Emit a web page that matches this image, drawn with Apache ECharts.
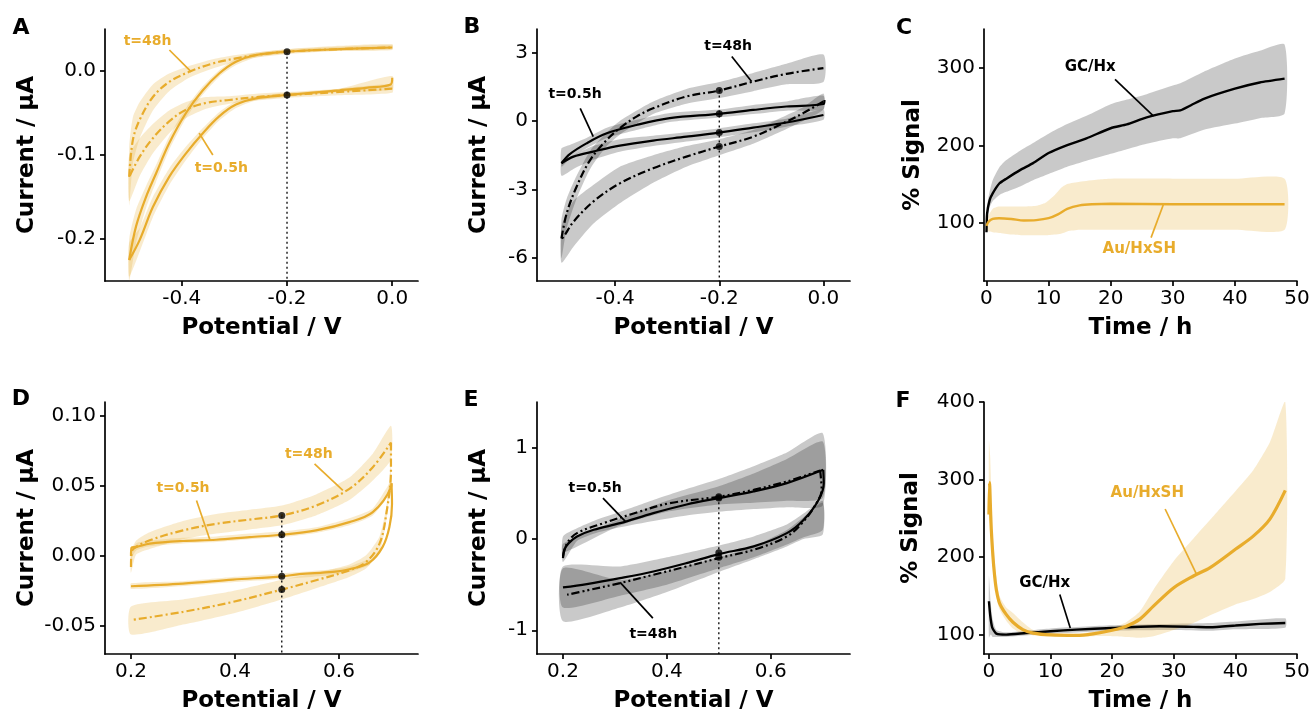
<!DOCTYPE html>
<html><head><meta charset="utf-8">
<script src="https://cdn.jsdelivr.net/npm/echarts@6/dist/echarts.min.js"></script>
<style>html,body{margin:0;padding:0;background:#fff}#c{width:1312px;height:718px}</style>
</head><body><div id="c"></div>
<script>
// ---------------- Tick values ----------------
const A_xTicks = [-0.4, -0.2, 0.0];
const A_yTicks = [-0.2, -0.1, 0.0];
const B_xTicks = [-0.4, -0.2, 0.0];
const B_yTicks = [-6, -3, 0, 3];
const C_xTicks = [0, 10, 20, 30, 40, 50];
const C_yTicks = [100, 200, 300];
const D_xTicks = [0.2, 0.4, 0.6];
const D_yTicks = [-0.05, 0.00, 0.05, 0.10];
const E_xTicks = [0.2, 0.4, 0.6];
const E_yTicks = [-1, 0, 1];
const F_xTicks = [0, 10, 20, 30, 40, 50];
const F_yTicks = [100, 200, 300, 400];

// ---------------- Panel A (Au/HxSH, CV) ----------------
const A_t05_up = [[-0.5,-0.225],[-0.487,-0.185],[-0.468,-0.150],[-0.449,-0.122],[-0.424,-0.086],[-0.392,-0.050],[-0.360,-0.023],[-0.329,-0.003],[-0.297,0.011],[-0.259,0.019],[-0.2,0.023],[-0.1,0.026],[0,0.028]];
const A_t05_lo = [[0,-0.008],[-0.003,-0.016],[-0.05,-0.020],[-0.1,-0.023],[-0.2,-0.0286],[-0.259,-0.0325],[-0.297,-0.040],[-0.329,-0.054],[-0.36,-0.074],[-0.392,-0.098],[-0.424,-0.126],[-0.455,-0.162],[-0.48,-0.201],[-0.5,-0.225]];
const A_t48_up = [[-0.5,-0.126],[-0.493,-0.082],[-0.48,-0.058],[-0.455,-0.031],[-0.424,-0.013],[-0.386,-0.001],[-0.341,0.009],[-0.297,0.015],[-0.259,0.019],[-0.2,0.023],[-0.1,0.026],[0,0.028]];
const A_t48_lo = [[0,-0.021],[-0.1,-0.025],[-0.2,-0.0286],[-0.259,-0.031],[-0.31,-0.0345],[-0.354,-0.038],[-0.392,-0.046],[-0.424,-0.060],[-0.455,-0.080],[-0.48,-0.102],[-0.5,-0.126]];
const A_t05_up_band = [[-0.5,-0.25,-0.2],[-0.487,-0.205,-0.165],[-0.468,-0.163,-0.137],[-0.449,-0.132,-0.112],[-0.424,-0.094,-0.078],[-0.392,-0.056,-0.044],[-0.36,-0.028,-0.018],[-0.329,-0.007,0.001],[-0.297,0.007,0.015],[-0.259,0.016,0.022],[-0.2,0.021,0.026],[-0.1,0.024,0.029],[0,0.026,0.031]];
const A_t05_lo_band = [[-0.5,-0.245,-0.205],[-0.48,-0.215,-0.187],[-0.455,-0.174,-0.150],[-0.424,-0.136,-0.116],[-0.392,-0.106,-0.090],[-0.36,-0.080,-0.068],[-0.329,-0.059,-0.049],[-0.297,-0.044,-0.036],[-0.259,-0.035,-0.030],[-0.2,-0.031,-0.026],[-0.1,-0.025,-0.021],[0,-0.022,-0.006]];
const A_t48_up_band = [[-0.5,-0.16,-0.09],[-0.493,-0.11,-0.055],[-0.48,-0.08,-0.037],[-0.455,-0.047,-0.016],[-0.424,-0.024,-0.003],[-0.386,-0.008,0.006],[-0.341,0.003,0.014],[-0.297,0.011,0.019],[-0.259,0.016,0.022],[-0.2,0.020,0.026],[-0.1,0.024,0.030],[0,0.025,0.032]];
const A_t48_lo_band = [[-0.5,-0.155,-0.10],[-0.48,-0.125,-0.08],[-0.455,-0.098,-0.063],[-0.424,-0.074,-0.047],[-0.392,-0.056,-0.037],[-0.354,-0.045,-0.031],[-0.31,-0.039,-0.030],[-0.259,-0.035,-0.027],[-0.2,-0.032,-0.025],[-0.1,-0.029,-0.021],[0,-0.026,-0.016]];
const A_dots = [[-0.2,0.023],[-0.2,-0.0286]];

// ---------------- Panel B (GC/Hx, CV) ----------------
const B_t05_up = [[-0.503,-1.85],[-0.487,-1.45],[-0.455,-0.98],[-0.416,-0.54],[-0.359,-0.18],[-0.295,0.12],[-0.2,0.31],[-0.135,0.48],[-0.071,0.63],[0,0.74],[0.002,0.92]];
const B_t05_lo = [[0,0.26],[-0.071,-0.07],[-0.135,-0.29],[-0.2,-0.51],[-0.263,-0.69],[-0.327,-0.86],[-0.391,-1.08],[-0.442,-1.34],[-0.48,-1.56],[-0.503,-1.85]];
const B_t48_up = [[-0.503,-5.14],[-0.493,-4.04],[-0.474,-2.88],[-0.448,-1.71],[-0.416,-0.83],[-0.391,-0.32],[-0.359,0.19],[-0.327,0.55],[-0.263,1.07],[-0.2,1.33],[-0.135,1.72],[-0.071,2.06],[0,2.31]];
const B_t48_lo = [[0,0.85],[-0.039,0.34],[-0.071,-0.03],[-0.135,-0.69],[-0.2,-1.12],[-0.263,-1.56],[-0.327,-2.07],[-0.391,-2.73],[-0.442,-3.53],[-0.48,-4.41],[-0.499,-5.07],[-0.503,-5.14]];
const B_t05_up_band = [[-0.503,-2.0,-1.2],[-0.487,-1.65,-1.05],[-0.455,-1.2,-0.75],[-0.416,-0.75,-0.3],[-0.359,-0.4,0.05],[-0.295,-0.05,0.35],[-0.2,0.15,0.5],[-0.135,0.3,0.7],[-0.071,0.45,0.85],[0,0.5,1.1]];
const B_t05_lo_band = [[-0.503,-2.4,-1.8],[-0.48,-2.1,-1.5],[-0.442,-1.7,-1.1],[-0.391,-1.35,-0.8],[-0.327,-1.1,-0.65],[-0.263,-0.9,-0.5],[-0.2,-0.72,-0.32],[-0.135,-0.5,-0.1],[-0.071,-0.25,0.1],[0,0.05,0.5]];
const B_t48_up_band = [[-0.503,-6.0,-4.3],[-0.493,-4.7,-3.4],[-0.474,-3.4,-2.4],[-0.448,-2.1,-1.3],[-0.416,-1.1,-0.5],[-0.391,-0.6,0.0],[-0.327,0.3,0.85],[-0.263,0.75,1.4],[-0.2,1.0,1.7],[-0.135,1.3,2.1],[-0.071,1.6,2.5],[0,1.7,2.9]];
const B_t48_lo_band = [[-0.503,-6.2,-4.6],[-0.48,-5.5,-3.5],[-0.442,-4.5,-2.8],[-0.391,-3.6,-2.0],[-0.327,-2.7,-1.5],[-0.263,-2.0,-1.1],[-0.2,-1.5,-0.8],[-0.135,-1.0,-0.4],[-0.071,-0.35,0.25],[-0.039,0.0,0.6],[0,0.5,1.2]];
const B_dots = [[-0.2,1.33],[-0.2,0.31],[-0.2,-0.51],[-0.2,-1.12]];

// ---------------- Panel C (% signal vs time, oxidation) ----------------
const C_gc = [[0,88],[0.1,112],[0.5,129],[1,138],[2.1,151],[3.2,157],[5.4,168],[7.5,177],[10,190],[12.9,200],[16.1,209],[20,222],[22.6,227],[25.8,236],[30,244],[31.2,245],[33,252],[35,260],[40,273],[44,281],[48,286]];
const C_gc_band = [[0,85,95],[0.1,104,122],[0.5,120,140],[1,128,155],[2.1,136,172],[3.2,140,181],[5.4,147,193],[7.5,155,203],[10,163,215],[12.9,172,227],[16.1,180,238],[20,189,253],[22.6,195,259],[25.8,202,266],[30,209,277],[31.2,209,280],[35,220,295],[40,228,312],[44,235,322],[48,241,330]];
const C_au = [[0,96],[0.3,101],[1,105],[2,106],[4,105],[6,103],[8,103.5],[10,106],[11.5,111],[13,118],[15,122.5],[17,124],[20,124.7],[30,124],[40,124],[48,124]];
const C_au_band = [[0,90,104],[1,88,118],[2,87,121],[4,85,121],[6,84,121],[8,84,122],[9.5,84,126],[11,85,136],[12,86,145],[13,89,150],[15,91,153],[18,91,156],[20,91,157],[30,91,157],[40,91,157],[48,91,157]];

// ---------------- Panel D (Au/HxSH, CV anodic) ----------------
const D_t05_up = [[0.2,0.0],[0.201,0.006],[0.211,0.0065],[0.236,0.0088],[0.3,0.0107],[0.364,0.0116],[0.428,0.0135],[0.49,0.0152],[0.556,0.0183],[0.62,0.0242],[0.665,0.0313],[0.7,0.049],[0.701,0.052]];
const D_t05_lo = [[0.701,0.052],[0.702,0.037],[0.697,0.0207],[0.684,0.0065],[0.659,-0.0045],[0.62,-0.0095],[0.588,-0.0114],[0.524,-0.013],[0.49,-0.0145],[0.396,-0.0169],[0.3,-0.0197],[0.2,-0.0216]];
const D_t48_up = [[0.2,-0.0078],[0.2005,0.0005],[0.205,0.0052],[0.236,0.0112],[0.3,0.0183],[0.364,0.023],[0.428,0.026],[0.49,0.029],[0.556,0.036],[0.62,0.048],[0.665,0.0634],[0.7,0.081]];
const D_t48_lo = [[0.7,0.081],[0.7,0.061],[0.691,0.030],[0.678,0.0088],[0.652,-0.0043],[0.62,-0.0102],[0.556,-0.0173],[0.49,-0.024],[0.396,-0.0328],[0.3,-0.0399],[0.2,-0.0458]];
const D_t05_up_band = [[0.2,-0.002,0.003],[0.21,0.004,0.009],[0.236,0.007,0.011],[0.3,0.009,0.013],[0.364,0.010,0.014],[0.428,0.012,0.016],[0.49,0.0135,0.0175],[0.556,0.0165,0.0205],[0.62,0.022,0.027],[0.665,0.029,0.034],[0.7,0.046,0.053]];
const D_t05_lo_band = [[0.2,-0.0235,-0.0195],[0.3,-0.0215,-0.018],[0.396,-0.0188,-0.015],[0.49,-0.0165,-0.0125],[0.588,-0.0135,-0.0095],[0.62,-0.0115,-0.0075],[0.659,-0.0065,-0.0025]];
const D_t48_up_band = [[0.2,-0.012,0.003],[0.21,0.001,0.011],[0.236,0.005,0.017],[0.3,0.012,0.025],[0.364,0.016,0.030],[0.428,0.019,0.033],[0.49,0.022,0.036],[0.556,0.029,0.044],[0.62,0.040,0.056],[0.665,0.054,0.073],[0.7,0.069,0.093]];
const D_t48_lo_band = [[0.2,-0.056,-0.036],[0.3,-0.049,-0.031],[0.396,-0.041,-0.025],[0.49,-0.031,-0.017],[0.556,-0.023,-0.012],[0.62,-0.015,-0.006],[0.652,-0.009,0.0005],[0.678,0.003,0.014],[0.691,0.025,0.035],[0.7,0.056,0.066]];
const D_dots = [[0.49,0.029],[0.49,0.0152],[0.49,-0.0145],[0.49,-0.024]];

// ---------------- Panel E (GC/Hx, CV anodic) ----------------
const E_t05_up = [[0.2,-0.208],[0.2025,-0.117],[0.211,-0.044],[0.227,0.029],[0.259,0.102],[0.31,0.175],[0.374,0.285],[0.438,0.38],[0.5,0.45],[0.567,0.523],[0.631,0.614],[0.701,0.76]];
const E_t05_lo = [[0.701,0.76],[0.702,0.61],[0.692,0.43],[0.663,0.21],[0.631,0.066],[0.567,-0.08],[0.5,-0.164],[0.438,-0.263],[0.374,-0.355],[0.31,-0.428],[0.246,-0.493],[0.2,-0.53]];
const E_t48_up = [[0.2,-0.19],[0.208,-0.044],[0.227,0.066],[0.278,0.175],[0.342,0.292],[0.406,0.395],[0.5,0.465],[0.567,0.541],[0.631,0.632],[0.695,0.753]];
const E_t48_lo = [[0.695,0.753],[0.698,0.54],[0.688,0.395],[0.663,0.194],[0.631,0.029],[0.567,-0.117],[0.5,-0.208],[0.438,-0.3],[0.374,-0.391],[0.31,-0.482],[0.246,-0.563],[0.208,-0.61]];
const E_t05_up_band = [[0.2,-0.25,0.03],[0.227,-0.02,0.12],[0.259,0.06,0.2],[0.31,0.13,0.3],[0.374,0.2,0.43],[0.438,0.26,0.55],[0.5,0.3,0.66],[0.567,0.33,0.8],[0.631,0.35,0.95],[0.7,0.37,1.16]];
const E_t48_up_band = [[0.2,-0.15,-0.05],[0.31,0.15,0.22],[0.4,0.3,0.42],[0.5,0.38,0.58],[0.567,0.4,0.72],[0.631,0.42,0.88],[0.7,0.45,1.07]];
const E_t05_lo_band = [[0.2,-0.75,-0.3],[0.31,-0.62,-0.3],[0.4,-0.5,-0.2],[0.5,-0.32,-0.07],[0.567,-0.2,0.03],[0.631,-0.06,0.16],[0.663,0.02,0.28],[0.7,0.1,0.42]];
const E_t48_lo_band = [[0.2,-0.9,-0.32],[0.31,-0.75,-0.45],[0.4,-0.58,-0.35],[0.5,-0.36,-0.2],[0.567,-0.22,-0.08],[0.631,-0.08,0.1],[0.663,0.0,0.24],[0.7,0.05,0.4]];
const E_dots = [[0.5,0.45],[0.5,0.465],[0.5,-0.15],[0.5,-0.2]];

// ---------------- Panel F (% signal vs time, reduction) ----------------
const F_au = [[0,255],[0.1,296],[0.22,270],[0.38,236],[0.65,201],[0.92,176],[1.2,158],[1.7,141],[2.8,126],[3.9,116],[5.5,106.5],[7.2,102],[10,99.6],[14.2,99],[16.9,101],[20,105.6],[22.3,110.8],[24.5,120],[26.7,136.7],[30,160.5],[33.2,175.6],[35.9,186.4],[40,210],[42.9,227],[45.6,249],[48.1,286]];
const F_au_band = [[0,250,350],[0.2,240,330],[0.65,190,227],[1.2,150,175],[1.7,133,150],[2.8,118,135],[3.9,108,128],[5.5,101,116],[7.2,99,106],[10,98,102],[14.2,97.5,101],[17,98,104],[20,98,109],[22.3,97,116],[24.5,96,130],[26.7,98,158],[30,106,195],[33.2,115,224],[35.9,125,248],[40,139,285],[42.9,146,312],[45.6,155,348],[48.1,172,400]];
const F_gc = [[0,143],[0.22,124],[0.54,109],[1.2,101.3],[2.8,100],[6,102],[10,104.3],[14.2,106.5],[20,108.6],[27.7,110.8],[33.2,110],[35.9,109.5],[40,111.7],[44,113.8],[48.1,115]];
const F_gc_band = [[0,96,176],[0.3,100,140],[0.6,97,120],[1.2,97,106],[2.8,97,103],[10,101,108],[20,105,112],[30,106,114],[36,105,115],[40,107,117],[48.1,109,121]];

// ---------------- Styling ----------------
const ORANGE = '#E8AC2C';
const OR_BAND = 'rgba(232,172,44,0.24)';
const GR_BAND = 'rgba(0,0,0,0.21)';
const FONT = '"DejaVu Sans", "Liberation Sans", sans-serif';
const DASH = [8, 3, 2, 3];
const DASH2 = [8, 3, 2, 3, 2, 3];

const grids = [
  {left:105, top:29, width:313, height:252},
  {left:537, top:29, width:313, height:252},
  {left:984, top:29, width:313, height:252},
  {left:105, top:402, width:313, height:252},
  {left:537, top:402, width:313, height:252},
  {left:984, top:402, width:313, height:252}
].map(g => Object.assign(g, {containLabel:false, outerBoundsMode:'none'}));

function axisBase(gi, min, max, ticks, dec, name, gap, labMargin) {
  return {
    type:'value', gridIndex:gi, min:min, max:max, scale:true,
    name:name, nameLocation:'middle', nameGap:gap, nameMoveOverlap:false,
    nameTextStyle:{fontFamily:FONT, fontWeight:'bold', fontSize:23, color:'#000'},
    axisLine:{show:true, onZero:false, lineStyle:{color:'#000', width:1.7}},
    axisTick:{show:true, inside:false, length:5, customValues:ticks, lineStyle:{color:'#000', width:1.7}},
    axisLabel:{show:true, customValues:ticks, margin:labMargin, formatter:v => Number(v).toFixed(dec),
      fontFamily:FONT, fontSize:20, color:'#000'},
    splitLine:{show:false}
  };
}
const xAxes = [
  axisBase(0, -0.546, 0.049, A_xTicks, 1, 'Potential / V', 36, 8),
  axisBase(1, -0.55, 0.051, B_xTicks, 1, 'Potential / V', 36, 8),
  axisBase(2, -0.4, 50, C_xTicks, 0, 'Time / h', 36, 8),
  axisBase(3, 0.15, 0.752, D_xTicks, 1, 'Potential / V', 36, 8),
  axisBase(4, 0.15, 0.7525, E_xTicks, 1, 'Potential / V', 36, 8),
  axisBase(5, -0.8, 50, F_xTicks, 0, 'Time / h', 36, 8)
];
const yAxes = [
  axisBase(0, -0.25, 0.05, A_yTicks, 1, 'Current / µA', 66, 9),
  axisBase(1, -7, 4.02, B_yTicks, 0, 'Current / µA', 46, 9),
  axisBase(2, 25, 350, C_yTicks, 0, '% Signal', 59, 9),
  axisBase(3, -0.07, 0.11, D_yTicks, 2, 'Current / µA', 66, 9),
  axisBase(4, -1.26, 1.504, E_yTicks, 0, 'Current / µA', 46, 9),
  axisBase(5, 75, 400, F_yTicks, 0, '% Signal', 61, 9)
];

function line(gi, data, color, width, dash, smooth) {
  return {type:'line', xAxisIndex:gi, yAxisIndex:gi, data:data, symbol:'none', showSymbol:false,
    smooth: smooth === undefined ? 0.35 : smooth, silent:true, animation:false, z:4,
    lineStyle:{color:color, width:width, type:dash || 'solid', cap:'butt'}};
}
function band(gi, pts, fill) {
  return {type:'custom', xAxisIndex:gi, yAxisIndex:gi, data:pts, encode:{x:0, y:[1,2]},
    silent:true, animation:false, z:2, clip:true,
    renderItem: function(params, api) {
      if (params.dataIndex !== 0) return null;
      const lo = pts.map(p => api.coord([p[0], p[1]]));
      const hi = pts.map(p => api.coord([p[0], p[2]])).reverse();
      return {type:'polygon', shape:{points: lo.concat(hi), smooth:0.2}, style:{fill:fill, stroke:null}};
    }};
}
function dots(gi, data) {
  return {type:'scatter', xAxisIndex:gi, yAxisIndex:gi, data:data, symbol:'circle', symbolSize:7,
    itemStyle:{color:'#000'}, silent:true, animation:false, z:6};
}
function vdotted(gi, data) {
  return {type:'line', xAxisIndex:gi, yAxisIndex:gi, data:data, symbol:'none', silent:true, animation:false, z:3,
    lineStyle:{color:'#000', width:1.3, type:[2,3]}};
}
// annotations: label text at a data position and a leader segment between two data positions
function annot(gi, items, color, size) {
  return {type:'custom', xAxisIndex:gi, yAxisIndex:gi, data:items.map(it => it.at), encode:{x:0, y:1},
    silent:true, animation:false, z:7, clip:false,
    renderItem: function(params, api) {
      const it = items[params.dataIndex];
      const p = api.coord(it.at), a = api.coord(it.line[0]), b = api.coord(it.line[1]);
      return {type:'group', children:[
        {type:'line', shape:{x1:a[0], y1:a[1], x2:b[0], y2:b[1]}, style:{stroke:color, lineWidth:1.7}},
        {type:'text', x:p[0], y:p[1], style:{text:it.text, fill:color, font:'bold ' + size + 'px ' + FONT,
          align:'center', verticalAlign:'middle', textAlign:'center', textVerticalAlign:'middle'}}
      ]};
    }};
}

const A_notes = [
  {text:'t=48h', at:[-0.465,0.035], line:[[-0.4236,0.025],[-0.382,-0.001]]},
  {text:'t=0.5h', at:[-0.325,-0.116], line:[[-0.341,-0.1],[-0.367,-0.074]]}
];
const B_notes = [
  {text:'t=0.5h', at:[-0.477,1.14], line:[[-0.467,0.55],[-0.442,-0.69]]},
  {text:'t=48h', at:[-0.183,3.26], line:[[-0.176,2.82],[-0.138,1.72]]}
];
const C_notes_gc = [{text:'GC/Hx', at:[16.7,301], line:[[20.7,285],[26.9,237.7]]}];
const C_notes_au = [{text:'Au/HxSH', at:[24.6,65.7], line:[[26.5,81],[28.5,124]]}];
const D_notes = [
  {text:'t=0.5h', at:[0.3,0.048], line:[[0.326,0.0396],[0.352,0.0112]]},
  {text:'t=48h', at:[0.542,0.0729], line:[[0.553,0.0658],[0.6075,0.0468]]}
];
const E_notes = [
  {text:'t=0.5h', at:[0.262,0.559], line:[[0.277,0.45],[0.32,0.194]]},
  {text:'t=48h', at:[0.374,-1.049], line:[[0.373,-0.866],[0.31,-0.475]]}
];
const F_notes_au = [{text:'Au/HxSH', at:[25.7,282.6], line:[[28.6,262],[33.7,177.7]]}];
const F_notes_gc = [{text:'GC/Hx', at:[9.05,166.9], line:[[11.5,151.8],[13.2,108.6]]}];

const series = [
  // A
  band(0, A_t05_up_band, OR_BAND), band(0, A_t05_lo_band, OR_BAND),
  band(0, A_t48_up_band, OR_BAND), band(0, A_t48_lo_band, OR_BAND),
  line(0, A_t05_up, ORANGE, 2.2), line(0, A_t05_lo, ORANGE, 2.2),
  line(0, A_t48_up, ORANGE, 2.2, DASH), line(0, A_t48_lo, ORANGE, 2.2, DASH),
  vdotted(0, [[-0.2,0.023],[-0.2,-0.25]]), dots(0, A_dots), annot(0, A_notes, ORANGE, 14),
  // B
  band(1, B_t05_up_band, GR_BAND), band(1, B_t05_lo_band, GR_BAND),
  band(1, B_t48_up_band, GR_BAND), band(1, B_t48_lo_band, GR_BAND),
  line(1, B_t05_up, '#000', 2.2), line(1, B_t05_lo, '#000', 2.2),
  line(1, B_t48_up, '#000', 2.2, DASH), line(1, B_t48_lo, '#000', 2.2, DASH),
  vdotted(1, [[-0.2,1.33],[-0.2,-7]]), dots(1, B_dots), annot(1, B_notes, '#000', 14),
  // C
  band(2, C_gc_band, GR_BAND), band(2, C_au_band, OR_BAND),
  line(2, C_gc, '#000', 2.4, null, 0.2), line(2, C_au, ORANGE, 2.4, null, 0.3),
  annot(2, C_notes_gc, '#000', 15), annot(2, C_notes_au, ORANGE, 15),
  // D
  band(3, D_t05_up_band, OR_BAND), band(3, D_t05_lo_band, OR_BAND),
  band(3, D_t48_up_band, OR_BAND), band(3, D_t48_lo_band, OR_BAND),
  line(3, D_t05_up, ORANGE, 2.2), line(3, D_t05_lo, ORANGE, 2.2),
  line(3, D_t48_up, ORANGE, 2.2, DASH), line(3, D_t48_lo, ORANGE, 2.2, DASH),
  vdotted(3, [[0.49,0.029],[0.49,-0.07]]), dots(3, D_dots), annot(3, D_notes, ORANGE, 14),
  // E
  band(4, E_t05_up_band, GR_BAND), band(4, E_t48_up_band, GR_BAND),
  band(4, E_t05_lo_band, GR_BAND), band(4, E_t48_lo_band, GR_BAND),
  line(4, E_t05_up, '#000', 2.2), line(4, E_t05_lo, '#000', 2.2),
  line(4, E_t48_up, '#000', 2.2, DASH2), line(4, E_t48_lo, '#000', 2.2, DASH2),
  vdotted(4, [[0.5,0.46],[0.5,-1.26]]), dots(4, E_dots), annot(4, E_notes, '#000', 14),
  // F
  band(5, F_gc_band, GR_BAND), band(5, F_au_band, OR_BAND),
  line(5, F_gc, '#000', 2.4, null, 0.2), line(5, F_au, ORANGE, 3.2, null, 0.3),
  annot(5, F_notes_au, ORANGE, 15), annot(5, F_notes_gc, '#000', 15)
];

const letters = [['A',21,28],['B',472,27],['C',904,28],['D',21,399],['E',471,400],['F',903,401]];
const chart = echarts.init(document.getElementById('c'), null, {renderer:'canvas'});
chart.setOption({
  animation:false,
  backgroundColor:'#fff',
  grid: grids,
  xAxis: xAxes,
  yAxis: yAxes,
  series: series,
  graphic: letters.map(l => ({type:'text', x:l[1], y:l[2], silent:true,
    style:{text:l[0], font:'bold 22px ' + FONT, fill:'#000', align:'center', verticalAlign:'middle',
      textAlign:'center', textVerticalAlign:'middle'}}))
});
</script>
</body></html>
